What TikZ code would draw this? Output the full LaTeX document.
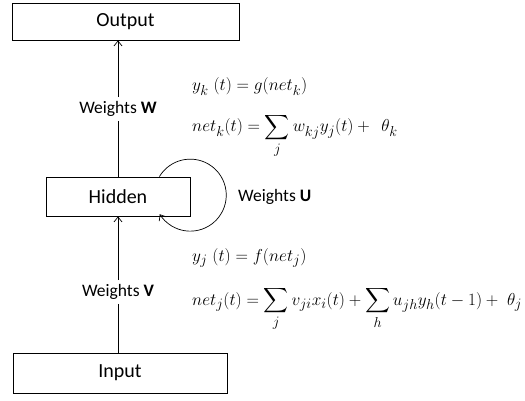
\documentclass[tikz,border=0pt]{standalone}
\usepackage[no-math]{fontspec}
\setmainfont{Carlito}
\usepackage{amsmath}
\usetikzlibrary{arrows.meta}
\begin{document}
\begin{tikzpicture}[x=1pt,y=-1pt,
  box/.style={draw, line width=0.8pt, inner sep=0pt, font=\fontsize{20}{24}\selectfont},
  lbl/.style={inner sep=4pt, font=\fontsize{17.5}{21}\selectfont},
  eq/.style={anchor=base west, inner sep=0pt, font=\fontsize{19}{22}\selectfont},
  conn/.style={line width=0.7pt},
  tip/.style={-{Straight Barb[length=5pt,width=8pt]}}]
\useasboundingbox (0,0) rectangle (525,401);
\node[box, minimum width=227pt, minimum height=37pt] (out) at (125.5,21.5) {Output};
\node[box, minimum width=144pt, minimum height=39pt] (hid) at (118,196.5) {Hidden};
\node[box, minimum width=214pt, minimum height=40pt] (in) at (120,373) {Input};
\node[lbl] (wW) at (118,109) {Weights \textbf{W}};
\node[lbl] (wV) at (118,292) {Weights \textbf{V}};
\node[lbl, anchor=west] (wU) at (234,197) {Weights \textbf{U}};
\draw[conn, tip] (wW.north) -- (wW.north |- out.south);
\draw[conn] (wW.south) -- (wW.south |- hid.north);
\draw[conn, tip] (wV.north) -- (wV.north |- hid.south);
\draw[conn] (wV.south) -- (wV.south |- in.north);
\coordinate (ls) at ([xshift=-31pt]hid.north east);
\draw[conn, tip] (ls) arc[start angle=149, end angle=-148, radius=36pt];
\node[eq] (e1) at (192,91) {$y_k\;(t) = g(net_k)$};
\node[eq] (e2) at (192,132) {$net_k(t) = \displaystyle\sum_j w_{kj} y_j(t) +\;\, \theta_k$};
\node[eq] (e3) at (192,261) {$y_j\;(t) = f(net_j)$};
\node[eq] (e4) at (192,305) {$net_j(t) = \displaystyle\sum_j v_{ji} x_i(t) + \sum_h u_{jh} y_h(t-1) +\; \theta_j$};
\end{tikzpicture}
\end{document}
